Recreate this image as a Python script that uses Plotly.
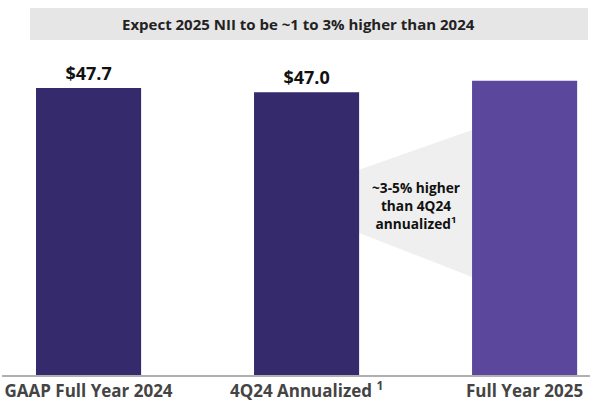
import plotly.graph_objects as go

categories = ["GAAP Full Year 2024", "4Q24 Annualized <sup>1</sup>", "Full Year 2025"]
values = [47.7, 47.0, 48.9]
value_labels = ["$47.7", "$47.0", ""]
title_text = "Expect 2025 NII to be ~1 to 3% higher than 2024"
wedge_text = "~3-5% higher<br>than 4Q24<br>annualized<sup>1</sup>"

bar_colors = ["#352a6b", "#352a6b", "#5b479c"]
FONT = "Open Sans, Noto Sans, sans-serif"
xpos = list(range(len(categories)))
bw = 0.482

fig = go.Figure()
fig.add_trace(go.Bar(
    x=xpos, y=values, width=bw,
    marker=dict(color=bar_colors, line=dict(width=0)),
    text=["<b>%s</b>" % t for t in value_labels],
    textposition="outside", cliponaxis=False,
    textfont=dict(family=FONT, size=18, color="#111111"),
    hoverinfo="skip",
))

# wedge between bar 2 and bar 3
x0 = xpos[1] + bw / 2
x1 = xpos[2] - bw / 2
fig.add_shape(type="path",
              path=f"M {x0},34.1 L {x1},40.7 L {x1},16.3 L {x0},23.6 Z",
              xref="x", yref="y", fillcolor="#efefef", line=dict(width=0), layer="below")
fig.add_annotation(x=(x0 + x1) / 2, y=28.2, xref="x", yref="y",
                   xanchor="center", yanchor="middle",
                   text="<b>%s</b>" % wedge_text, showarrow=False,
                   font=dict(family=FONT, size=13.7, color="#111111"), align="center")

# title box
fig.add_shape(type="rect", xref="paper", yref="paper",
              x0=(30 - 2) / 588, x1=(588 - 2) / 588, y0=(375 - 40) / 361, y1=(375 - 8) / 361,
              fillcolor="#e6e6e6", line=dict(width=0), layer="below")
fig.add_annotation(x=(299 - 2) / 588, y=(375 - 24) / 361, xref="paper", yref="paper",
                   xanchor="center", yanchor="middle",
                   text="<b>%s</b>" % title_text, showarrow=False,
                   font=dict(family=FONT, size=15, color="#222222"))

fig.update_layout(
    width=597, height=417, autosize=False,
    margin=dict(l=2, r=7, t=14, b=42),
    plot_bgcolor="white", paper_bgcolor="white",
    showlegend=False,
    xaxis=dict(range=[-0.397, 2.300], tickvals=xpos,
               ticktext=["<b>%s</b>" % c for c in categories],
               tickfont=dict(family=FONT, size=17, color="#444444"),
               ticklabeloverflow="allow",
               showline=True, linecolor="#b0b0b0", linewidth=2,
               showgrid=False, zeroline=False, ticks="", fixedrange=True),
    yaxis=dict(range=[0, 60], visible=False, showgrid=False, zeroline=False, fixedrange=True),
)

fig.write_html("out.html", config={"displayModeBar": False},
               post_script="document.body.style.margin='0';document.body.style.overflow='hidden';")
